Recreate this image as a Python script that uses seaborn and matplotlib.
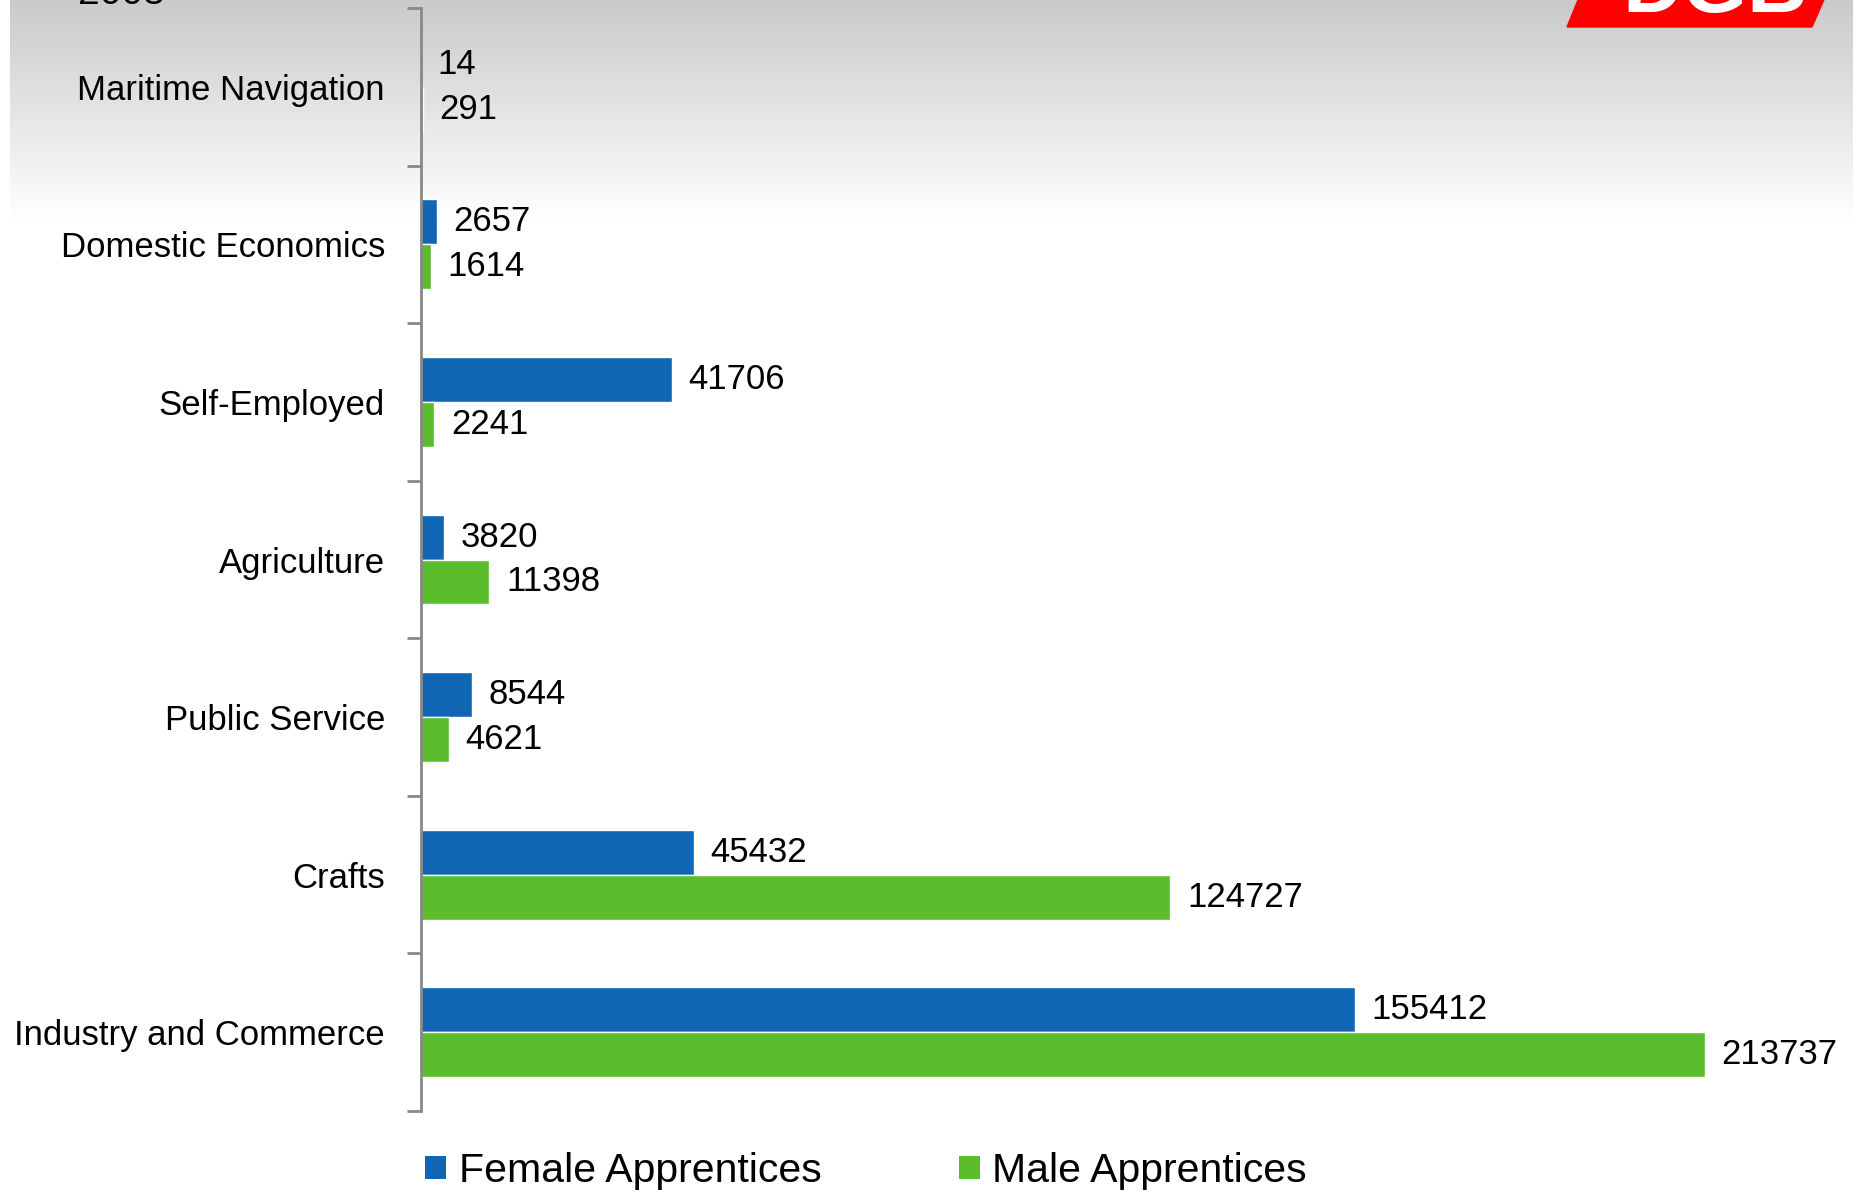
import numpy as np
import pandas as pd
import seaborn as sns
import matplotlib.pyplot as plt
from matplotlib.patches import Polygon, Patch

categories = ['Maritime Navigation', 'Domestic Economics', 'Self-Employed',
              'Agriculture', 'Public Service', 'Crafts', 'Industry and Commerce']
female = [14, 2657, 41706, 3820, 8544, 45432, 155412]
male = [291, 1614, 2241, 11398, 4621, 124727, 213737]
series = ['Female Apprentices', 'Male Apprentices']
colors = ['#1166b4', '#5bbd2b']

W, H = 1853, 1194
sns.set_theme(style='white')
plt.rcParams['font.family'] = ['Liberation Sans', 'DejaVu Sans']

df = pd.DataFrame({
    'category': categories * 2,
    'value': female + male,
    'series': [series[0]] * len(categories) + [series[1]] * len(categories),
})

fig = plt.figure(figsize=(W / 100, H / 100), dpi=100)

# slide background: grey gradient fading to white
bg = fig.add_axes([0, 0, 1, 1], zorder=-5)
rows = np.arange(H)
shade = np.clip(0.79 + 0.21 * rows / 225, 0, 1)
img = np.repeat(shade[:, None], W, axis=1)
img[:, :10] = 1.0
bg.imshow(img, cmap='gray', vmin=0, vmax=1, aspect='auto', extent=(0, W, H, 0))
bg.set_xlim(0, W)
bg.set_ylim(H, 0)
bg.axis('off')
# red logo corner, cut by the top edge
bg.add_patch(Polygon([(1567, 27), (1580, -5), (1826, -5), (1812, 27)],
                     closed=True, color='#ff0000', zorder=3))
bg.text(1715, 12, 'DGB', color='white', fontsize=60, fontweight='bold',
        ha='center', va='baseline', zorder=4)
bg.text(78, 4, '2008', color='black', fontsize=28, ha='left', va='baseline')

ax_left, ax_top, ax_bottom = 421, 8, 1111
ax = fig.add_axes([ax_left / W, 1 - ax_bottom / H, (W - ax_left) / W,
                   (ax_bottom - ax_top) / H])
ax.patch.set_alpha(0)

sns.barplot(data=df, y='category', x='value', hue='series', order=categories,
            hue_order=series, palette=colors, orient='h', width=0.57, gap=0,
            saturation=1, legend=False, ax=ax)

ax.set_xlim(0, max(male) * (W - ax_left) / 1284)
ax.set_ylim(len(categories) - 0.5, -0.5)
for cont in ax.containers:
    ax.bar_label(cont, labels=[str(int(v)) for v in cont.datavalues],
                 padding=12, fontsize=25, color='black')

for s in ['top', 'right', 'bottom']:
    ax.spines[s].set_visible(False)
ax.spines['left'].set_color('#888888')
ax.spines['left'].set_linewidth(2)
ax.set_xticks([])
ax.set_xlabel('')
ax.set_ylabel('')
ax.set_yticks(np.arange(len(categories)))
ax.set_yticklabels(categories, fontsize=25, color='black')
ax.tick_params(axis='y', which='major', length=0, pad=26)
ax.set_yticks(np.arange(len(categories) + 1) - 0.5, minor=True)
ax.tick_params(axis='y', which='minor', left=True, length=10, width=2,
               color='#888888')

handles = [Patch(facecolor=c, edgecolor='none') for c in colors]
fig.legend(handles, series, loc='center left',
           bbox_to_anchor=(425 / W, 1 - 1171 / H), ncol=2, frameon=False,
           fontsize=29.5, labelcolor='black', handlelength=0.52,
           handleheight=0.52, handletextpad=0.3, columnspacing=3.35,
           borderpad=0, borderaxespad=0)

fig.savefig('out.png', dpi=100)
